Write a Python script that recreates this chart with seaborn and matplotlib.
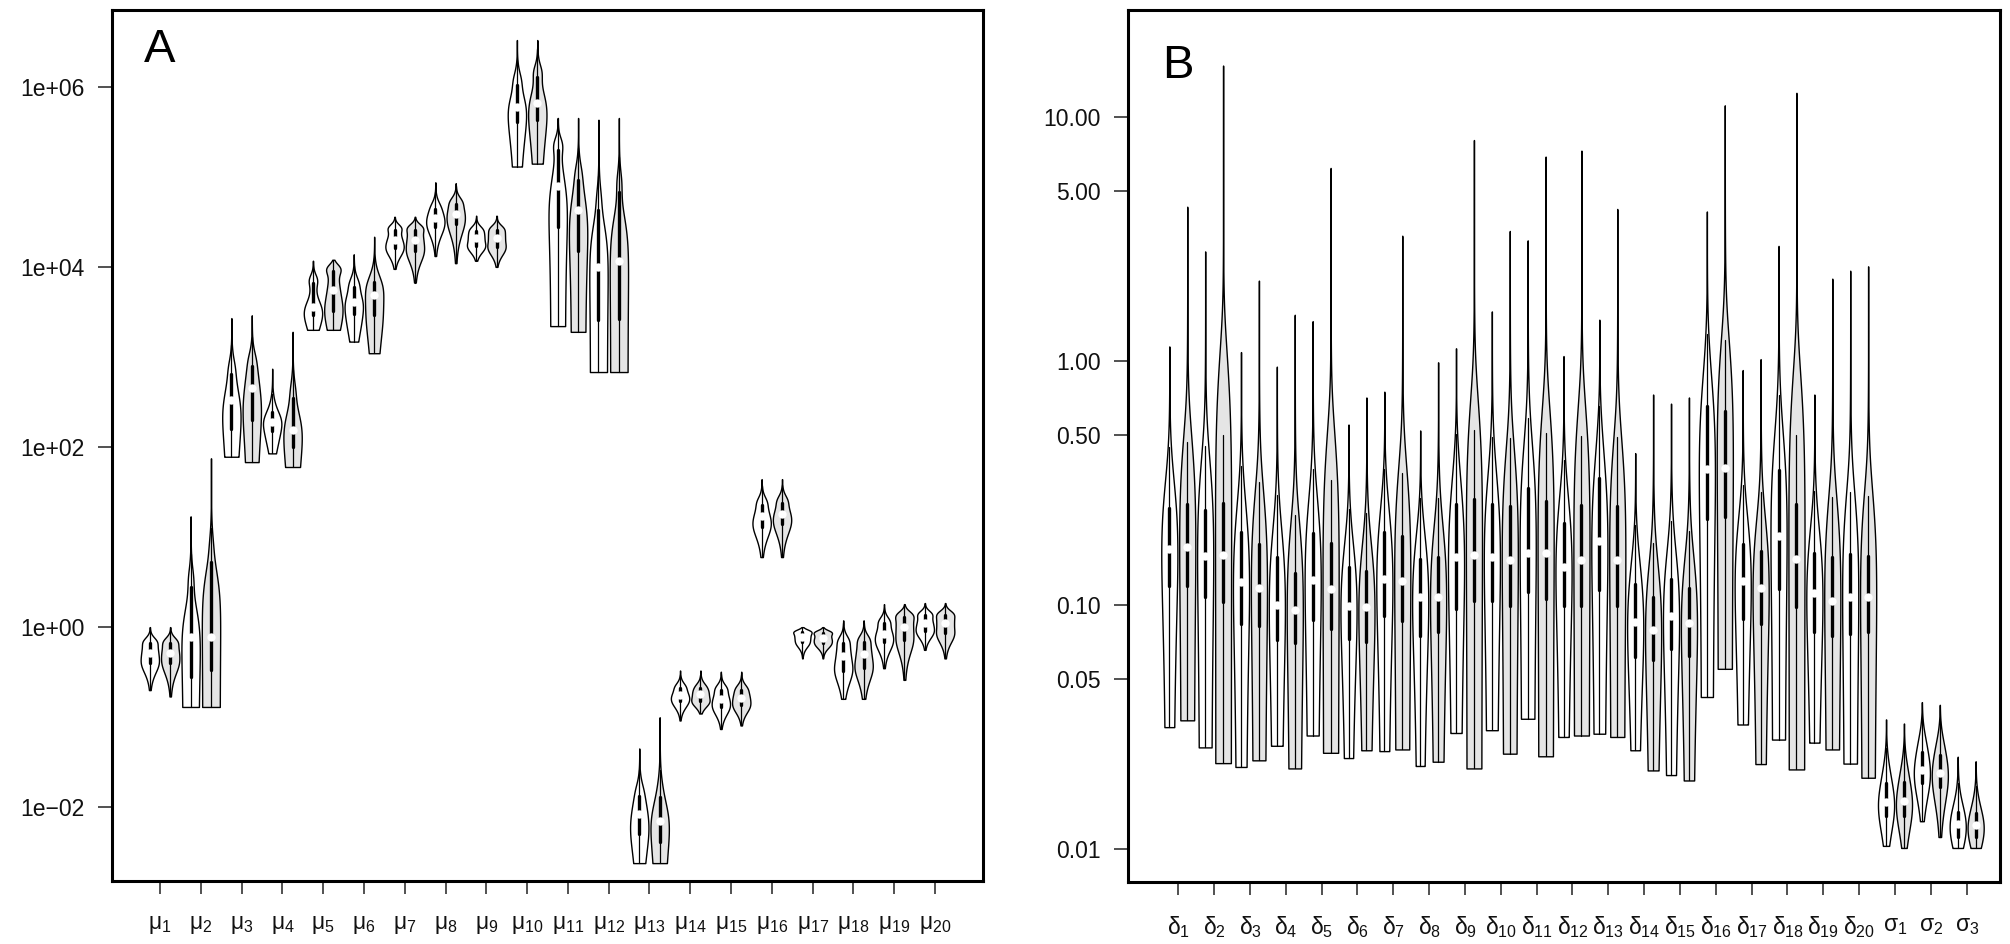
import numpy as np
import pandas as pd
import matplotlib
matplotlib.use("Agg")
import matplotlib.pyplot as plt
import seaborn as sns
from statistics import NormalDist
from matplotlib.ticker import NullLocator

# ---------------- data ----------------
A_names = [f"mu{i}" for i in range(1, 21)]
A_labels = [r"$\mu_{%d}$" % i for i in range(1, 21)]
# white violins (first of each pair)
A_w_min = [0.20, 0.13, 78, 85, 2000, 1480, 9500, 13200, 11700, 1.3e5, 2200, 680, 0.0024, 0.092, 0.074, 6.0, 0.45, 0.16, 0.35, 0.56]
A_w_q1 = [0.40, 0.28, 160, 150, 2900, 3000, 16000, 28000, 17000, 4.1e5, 27500, 2600, 0.005, 0.15, 0.13, 13, 0.68, 0.33, 0.68, 0.9]
A_w_med = [0.52, 0.78, 330, 190, 3600, 4100, 20000, 35000, 21000, 6.0e5, 80000, 10000, 0.0085, 0.175, 0.16, 17, 0.78, 0.48, 0.85, 1.1]
A_w_q3 = [0.66, 2.8, 650, 245, 6600, 6000, 26000, 44000, 25000, 1.05e6, 2.0e5, 43000, 0.0135, 0.21, 0.20, 23, 0.88, 0.66, 1.1, 1.35]
A_w_max = [1.0, 17, 2700, 740, 11700, 13800, 36000, 87000, 37000, 3.3e6, 4.5e5, 4.3e5, 0.045, 0.33, 0.32, 44, 1.0, 1.19, 1.8, 1.85]
# grey violins (second of each pair)
A_g_min = [0.17, 0.13, 68, 60, 2000, 1100, 6700, 11000, 10000, 1.4e5, 1900, 680, 0.0024, 0.11, 0.081, 6.0, 0.45, 0.16, 0.26, 0.45]
A_g_q1 = [0.40, 0.33, 200, 100, 3200, 2900, 15000, 30000, 16500, 4.3e5, 15000, 2600, 0.0041, 0.15, 0.135, 14, 0.66, 0.35, 0.72, 0.85]
A_g_med = [0.52, 0.78, 450, 155, 5500, 4900, 20000, 39000, 21000, 6.6e5, 43000, 11500, 0.0071, 0.18, 0.165, 18, 0.75, 0.5, 1.0, 1.1]
A_g_q3 = [0.66, 5.3, 800, 350, 9100, 6800, 26000, 50000, 25500, 1.3e6, 92000, 68000, 0.013, 0.21, 0.20, 24, 0.86, 0.68, 1.3, 1.35]
A_g_max = [1.0, 75, 2900, 1900, 12000, 21600, 36000, 85000, 37000, 3.3e6, 4.5e5, 4.5e5, 0.1, 0.33, 0.32, 44, 1.0, 1.19, 1.8, 1.85]
A_flat = [False, True, True, True, True, True, False, False, False, True, True, True, True,
          False, False, False, False, False, False, False]

B_names = [f"d{i}" for i in range(1, 21)] + ["s1", "s2", "s3"]
B_labels = [r"$\delta_{%d}$" % i for i in range(1, 21)] + [r"$\sigma_{%d}$" % i for i in range(1, 4)]
B_w_min = [0.0316, 0.0261, 0.0217, 0.0265, 0.0292, 0.0236, 0.0252, 0.0219, 0.0299, 0.0307, 0.0342, 0.0288,
           0.0297, 0.0254, 0.0201, 0.042, 0.0324, 0.0281, 0.0273, 0.0224, 0.0103, 0.0130, 0.0101]
B_w_q1 = [0.120, 0.108, 0.0838, 0.0716, 0.0870, 0.0727, 0.0906, 0.0750, 0.0965, 0.104, 0.113, 0.0995,
          0.115, 0.0612, 0.0662, 0.225, 0.0878, 0.116, 0.0774, 0.0762, 0.0136, 0.0186, 0.0112]
B_w_med = [0.170, 0.159, 0.124, 0.100, 0.127, 0.0995, 0.128, 0.108, 0.158, 0.158, 0.164, 0.143,
           0.184, 0.0851, 0.0906, 0.360, 0.126, 0.192, 0.112, 0.108, 0.0156, 0.0210, 0.0127]
B_w_q3 = [0.251, 0.245, 0.199, 0.157, 0.197, 0.143, 0.199, 0.155, 0.259, 0.259, 0.303, 0.218,
          0.333, 0.122, 0.128, 0.655, 0.178, 0.360, 0.164, 0.162, 0.0186, 0.025, 0.0142]
B_w_max = [1.15, 2.82, 1.09, 0.95, 1.46, 0.55, 0.75, 0.52, 1.13, 1.6, 3.13, 1.05,
           1.48, 0.42, 0.67, 4.11, 0.92, 2.97, 0.73, 2.35, 0.034, 0.040, 0.0239]
B_g_min = [0.0337, 0.0225, 0.0231, 0.0214, 0.0248, 0.0254, 0.0256, 0.0228, 0.0214, 0.0246, 0.0240, 0.0292,
           0.0288, 0.0210, 0.0191, 0.0548, 0.0223, 0.0212, 0.0256, 0.0196, 0.0101, 0.0112, 0.0101]
B_g_q1 = [0.120, 0.103, 0.0824, 0.0698, 0.0799, 0.0705, 0.0864, 0.0774, 0.104, 0.0995, 0.106, 0.0995,
          0.0995, 0.0593, 0.0621, 0.229, 0.0838, 0.098, 0.075, 0.0774, 0.0137, 0.018, 0.0112]
B_g_med = [0.173, 0.161, 0.117, 0.0955, 0.116, 0.0986, 0.125, 0.108, 0.161, 0.153, 0.164, 0.153,
           0.153, 0.0787, 0.0843, 0.366, 0.118, 0.155, 0.104, 0.108, 0.0157, 0.0204, 0.0125]
B_g_q3 = [0.259, 0.263, 0.178, 0.136, 0.179, 0.138, 0.192, 0.157, 0.272, 0.255, 0.268, 0.258,
          0.255, 0.108, 0.118, 0.625, 0.167, 0.259, 0.157, 0.159, 0.0188, 0.0242, 0.014]
B_g_max = [4.30, 16.3, 2.14, 1.55, 6.2, 0.71, 3.27, 0.99, 8.07, 3.42, 6.9, 7.3,
           4.21, 0.73, 0.71, 11.2, 1.02, 12.6, 2.18, 2.45, 0.0327, 0.039, 0.0229]
B_flat = [True] * 20 + [False, False, True]

A_yticks = [1e-2, 1, 1e2, 1e4, 1e6]
A_yticklabels = ["1e\u221202", "1e+00", "1e+02", "1e+04", "1e+06"]
B_yticks = [0.01, 0.05, 0.10, 0.50, 1.00, 5.00, 10.00]
B_yticklabels = ["0.01", "0.05", "0.10", "0.50", "1.00", "5.00", "10.00"]

# ---------------- sample reconstruction from the read summaries ----------------
N = 1000
P = (np.arange(N) + 0.5) / N
Z = np.array([NormalDist().inv_cdf(p) for p in P])


def rebuild(vmin, q1, med, q3, vmax, flat):
    lk = np.log10([vmin, q1, med, q3, vmax])
    zk = [Z[0], -0.6745, 0.0, 0.6745, Z[-1]]
    lv = np.interp(Z, zk, lk)
    if flat:
        lo = P < 0.25
        lv[lo] = lk[0] + (lk[1] - lk[0]) * (P[lo] - P[0]) / (0.25 - P[0])
    return 10 ** lv


def build_frame(names, wstats, gstats, flats):
    rows = []
    for i, name in enumerate(names):
        for model, st in (("a", wstats), ("b", gstats)):
            vals = rebuild(st[0][i], st[1][i], st[2][i], st[3][i], st[4][i], flats[i])
            rows.append(pd.DataFrame({"param": name, "model": model, "value": vals}))
    return pd.concat(rows, ignore_index=True)


dfA = build_frame(A_names, (A_w_min, A_w_q1, A_w_med, A_w_q3, A_w_max),
                  (A_g_min, A_g_q1, A_g_med, A_g_q3, A_g_max), A_flat)
dfB = build_frame(B_names, (B_w_min, B_w_q1, B_w_med, B_w_q3, B_w_max),
                  (B_g_min, B_g_q1, B_g_med, B_g_q3, B_g_max), B_flat)

# ---------------- plotting ----------------
sns.set_style("ticks")
plt.rcParams["font.family"] = ["Liberation Sans", "DejaVu Sans"]
plt.rcParams["mathtext.fontset"] = "custom"
plt.rcParams["mathtext.rm"] = "Liberation Sans"
plt.rcParams["mathtext.it"] = "Liberation Sans"
plt.rcParams["mathtext.bf"] = "Liberation Sans:bold"

W, H = 2010, 944
fig = plt.figure(figsize=(W / 100, H / 100), dpi=100)
fig.patch.set_facecolor("white")

axA = fig.add_axes([112 / W, (H - 880.7) / H, 870.7 / W, 870.7 / H])
axB = fig.add_axes([1128.3 / W, (H - 881.7) / H, 871.7 / W, 871.7 / H])

pal = {"a": "white", "b": "#e5e5e5"}


def draw(ax, df, names, labels, yticks, yticklabels, xlim, ylim, letter, lpos, bw):
    sns.violinplot(data=df, x="param", y="value", hue="model", order=names, hue_order=["a", "b"],
                   palette=pal, saturation=1, cut=0, gridsize=4000, density_norm="width",
                   bw_adjust=bw, width=1.0, gap=0.1, linewidth=1.0, linecolor="black",
                   inner="box", inner_kws=dict(box_width=2.4, whis_width=0.9, marker="o"),
                   legend=False, ax=ax)
    for ln in ax.lines:
        if ln.get_marker() == "o":
            ln.set_markersize(6.0)
            ln.set_markeredgewidth(0)
            ln.set_markerfacecolor("white")
    ax.set_yscale("log")
    ax.set_ylim(*ylim)
    ax.set_xlim(*xlim)
    ax.set_yticks(yticks)
    ax.set_yticklabels(yticklabels)
    ax.yaxis.set_minor_locator(NullLocator())
    ax.set_xticks(range(len(names)))
    ax.set_xticklabels(labels)
    ax.set_xlabel("")
    ax.set_ylabel("")
    for sp in ax.spines.values():
        sp.set_visible(True)
        sp.set_linewidth(2.2)
        sp.set_color("black")
    ax.tick_params(axis="y", direction="out", length=10, width=1.2, color="#333333",
                   labelsize=16.5, pad=10, labelcolor="#111111")
    ax.tick_params(axis="x", direction="out", length=9.5, width=1.2, color="#333333",
                   labelsize=16.5, pad=14, labelcolor="#111111")
    ax.text(lpos[0], lpos[1], letter, transform=ax.transAxes, fontsize=34,
            ha="left", va="baseline", color="black")


draw(axA, dfA, A_names, A_labels, A_yticks, A_yticklabels, (-1.177, 20.17),
     (10 ** -2.815, 10 ** 6.852), "A", (0.037, 0.9403), 1.6)
draw(axB, dfB, B_names, B_labels, B_yticks, B_yticklabels, (-1.395, 22.93),
     (10 ** -2.134, 10 ** 1.440), "B", (0.039, 0.9217), 3.0)

fig.savefig("out.png", dpi=100, facecolor="white")
